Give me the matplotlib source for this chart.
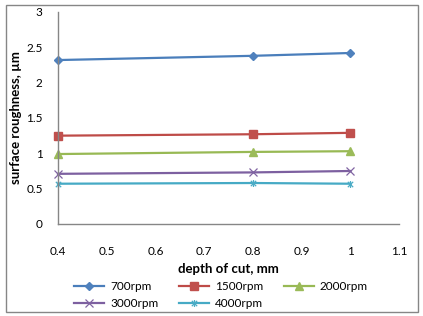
import matplotlib.pyplot as plt
from matplotlib.path import Path
from matplotlib.patches import Rectangle

depth = [0.4, 0.8, 1.0]
labels = ['700rpm', '1500rpm', '2000rpm', '3000rpm', '4000rpm']
ra_700 = [2.32, 2.38, 2.42]
ra_1500 = [1.25, 1.27, 1.29]
ra_2000 = [0.99, 1.02, 1.03]
ra_3000 = [0.71, 0.73, 0.75]
ra_4000 = [0.57, 0.58, 0.57]

# excel style star: x with a vertical bar
star = Path([(-1, -1), (1, 1), (-1, 1), (1, -1), (0, -1.3), (0, 1.3)],
            [Path.MOVETO, Path.LINETO, Path.MOVETO, Path.LINETO, Path.MOVETO, Path.LINETO])

series = [
    (ra_700, '#4A7EBB', 'D', 4.5, '#4F81BD'),
    (ra_1500, '#BE4B48', 's', 5.5, '#C0504D'),
    (ra_2000, '#98B954', '^', 6, '#9BBB59'),
    (ra_3000, '#7D60A0', 'x', 6, '#8064A2'),
    (ra_4000, '#46AAC5', star, 5, '#4BACC6'),
]

plt.rcParams['font.family'] = ['Lato', 'DejaVu Sans']

fig = plt.figure(figsize=(4.23, 3.16), dpi=100)
ax = fig.add_axes([58 / 423, 1 - 224 / 316, (399 - 58) / 423, (224 - 12) / 316])

handles = []
for (vals, col, mk, ms, mcol), lab in zip(series, labels):
    if mk == 'x' or isinstance(mk, Path):
        h, = ax.plot(depth, vals, color=col, lw=1.6, marker=mk, ms=ms,
                     mec=mcol, mfc='none', mew=0.9, label=lab, clip_on=False)
    else:
        h, = ax.plot(depth, vals, color=col, lw=1.6, marker=mk, ms=ms,
                     mec=mcol, mfc=mcol, label=lab, clip_on=False)
    handles.append(h)

ax.set_xlim(0.4, 1.1)
ax.set_ylim(0, 3)
ax.set_xticks([0.4, 0.5, 0.6, 0.7, 0.8, 0.9, 1.0, 1.1])
ax.set_xticklabels(['0.4', '0.5', '0.6', '0.7', '0.8', '0.9', '1', '1.1'])
ax.set_yticks([0, 0.5, 1, 1.5, 2, 2.5, 3])
ax.set_yticklabels(['0', '0.5', '1', '1.5', '2', '2.5', '3'])
ax.tick_params(length=0, labelsize=8.5, colors='black')
ax.tick_params(axis='x', pad=16)
ax.tick_params(axis='y', pad=11)
for s in ['top', 'right']:
    ax.spines[s].set_visible(False)
for s in ['left', 'bottom']:
    ax.spines[s].set_color('#868686')
    ax.spines[s].set_linewidth(1)

ax.set_xlabel('depth of cut, mm', fontsize=9.5, fontweight='bold', labelpad=4)
ax.set_ylabel('surface roughness, µm', fontsize=9.5, fontweight='bold')
ax.yaxis.set_label_coords(-0.105, 0.5)

order = [0, 3, 1, 4, 2]
fig.legend([handles[i] for i in order], [labels[i] for i in order],
           ncol=3, loc='center', bbox_to_anchor=(221 / 423, 1 - 295 / 316),
           frameon=False, fontsize=8.5, handlelength=2.55, columnspacing=1.75,
           labelspacing=0.5, handletextpad=0.5)

fig.patches.append(Rectangle((6 / 423, 1 - 312 / 316), 412 / 423, 307 / 316,
                             transform=fig.transFigure, fill=False,
                             edgecolor='#868686', lw=1))

fig.savefig('out.png', dpi=100)
